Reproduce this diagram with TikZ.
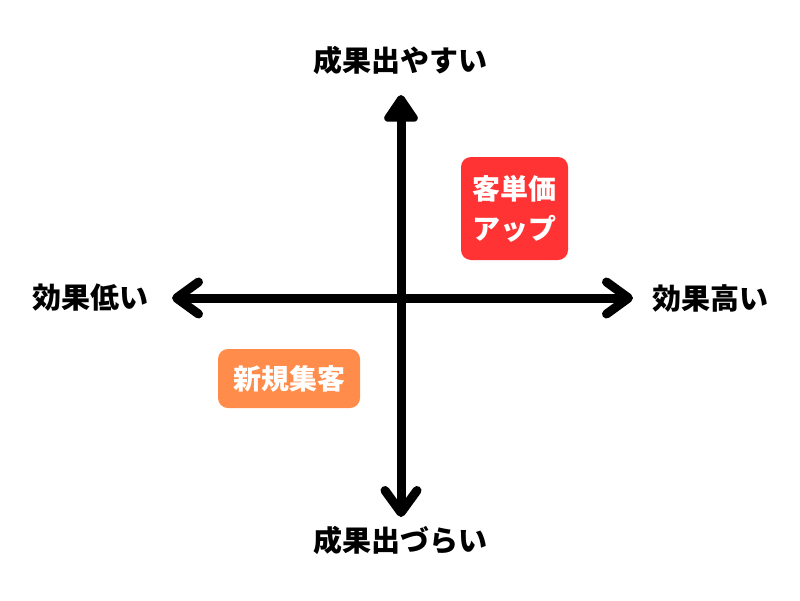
\documentclass[tikz,border=0pt]{standalone}
\usepackage{fontspec}
\usepackage{tikz}
\usetikzlibrary{arrows.meta}
\newfontfamily\jpfont{Noto Sans CJK JP}
\definecolor{UpFill}  {RGB}{255,51,51}
\definecolor{NewFill} {RGB}{255,140,74}
\tikzset{
  nd_lbl/.style={font=\jpfont\bfseries\fontsize{29}{40}\selectfont,inner sep=0pt},
  nd_box/.style={rectangle,rounded corners=10pt,text=white,align=center,inner sep=0pt,
    font=\jpfont\bfseries\fontsize{28}{40}\selectfont},
  axis/.style={line width=9pt,black},
  tip_up/.style={-{Triangle[length=30pt,width=38pt,round]}},
  tip_bar/.style={-{Straight Barb[length=22pt,width=32pt,round]}},
}

\begin{document}
\begin{tikzpicture}[x=1pt,y=-1pt]
\useasboundingbox (0,0) rectangle (800,600);
% axes
\coordinate (O) at (401,298);
\coordinate (T) at (401,95);
\coordinate (B) at (401,517);
\coordinate (L) at (172,298);
\coordinate (R) at (633,298);
\draw[axis,tip_up](O)--(T);
\draw[axis,tip_bar](O)--(B);
\draw[axis,tip_bar](O)--(L);
\draw[axis,tip_bar](O)--(R);
% axis labels
\node[nd_lbl] at (400,60)(LT){成果出やすい};
\node[nd_lbl] at (400,540)(LB){成果出づらい};
\node[nd_lbl] at (90,298)(LL){効果低い};
\node[nd_lbl] at (710,298)(LR){効果高い};
% boxes
\node[nd_box,fill=UpFill,minimum width=107pt,minimum height=103pt] at (514.5,208.5)(UP){客単価\\アップ};
\node[nd_box,fill=NewFill,minimum width=142pt,minimum height=59pt] at (289,378.5)(NEW){新規集客};
\end{tikzpicture}
\end{document}
